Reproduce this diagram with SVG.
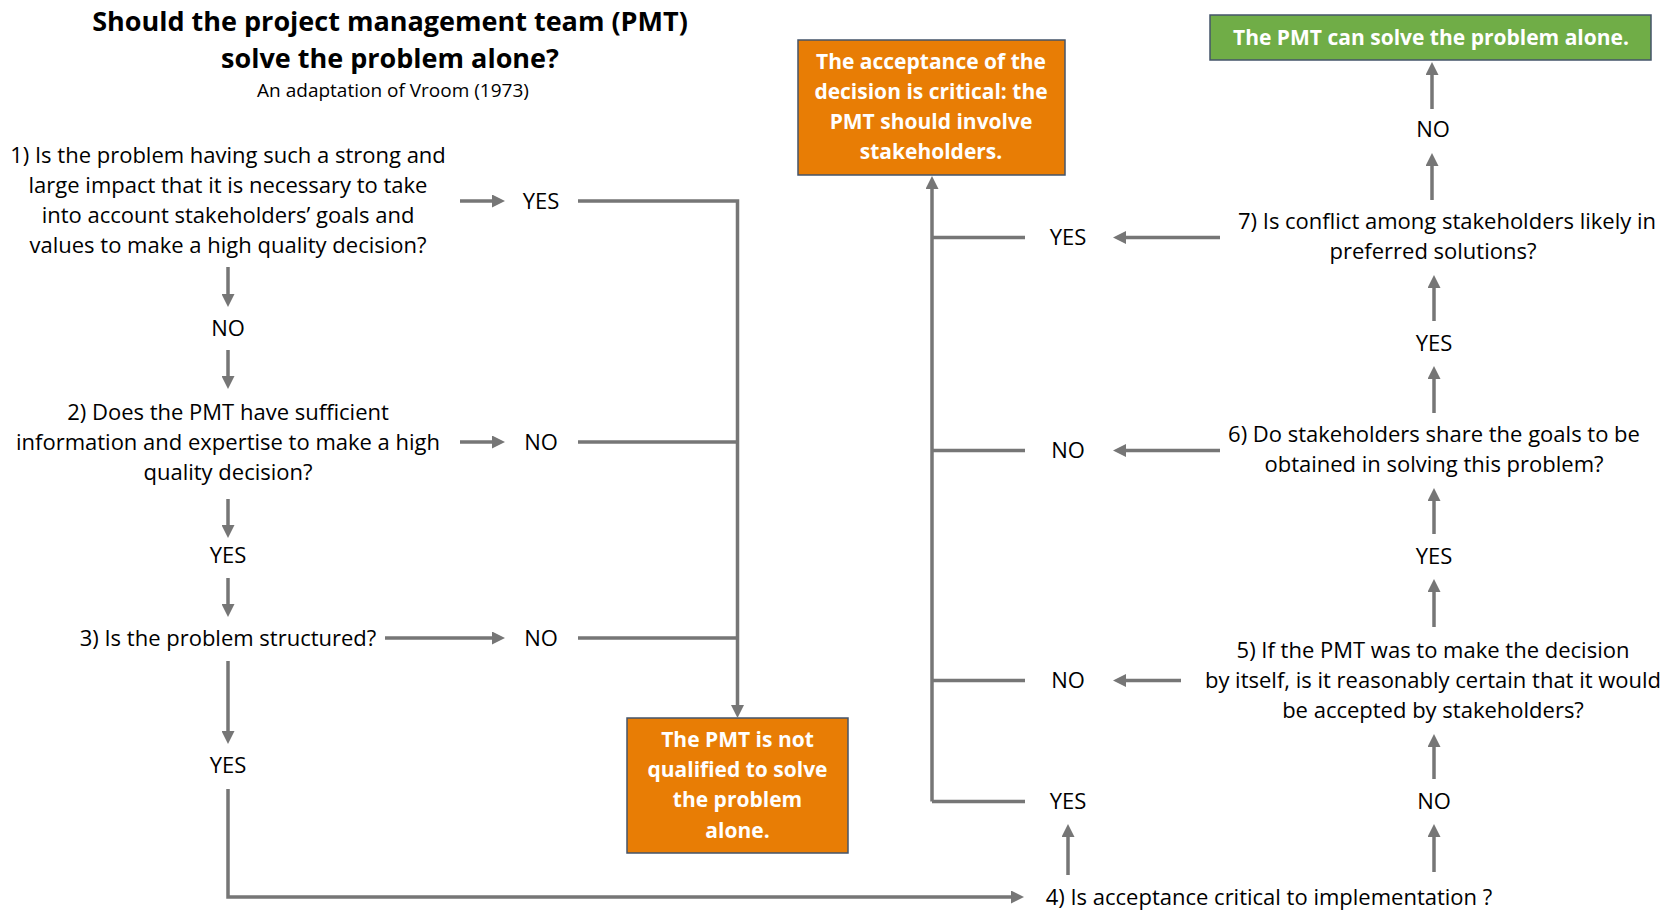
<svg xmlns="http://www.w3.org/2000/svg" width="1678" height="912" viewBox="0 0 1678 912">
<defs>
<style>
.t{font-family:"Open Sans","Liberation Sans",sans-serif;font-size:22px;fill:#000;text-anchor:middle}
.title{font-family:"Open Sans","Liberation Sans",sans-serif;font-size:27px;font-weight:bold;fill:#000;text-anchor:middle}
.sub{font-family:"Open Sans","Liberation Sans",sans-serif;font-size:19px;fill:#000;text-anchor:middle}
.bt{font-family:"Open Sans","Liberation Sans",sans-serif;font-size:21px;font-weight:bold;fill:#fff;text-anchor:middle}
.or{fill:#E87D05;stroke:#44546A;stroke-width:1.5}
.gr{fill:#70AD47;stroke:#44546A;stroke-width:1.5}
.c{fill:none;stroke:#767676;stroke-width:3.5}
.a{fill:none;stroke:#767676;stroke-width:3.5;marker-end:url(#ah)}
</style>
<marker id="ah" markerUnits="userSpaceOnUse" markerWidth="13" markerHeight="13" viewBox="0 0 13 13" refX="2" refY="6.5" orient="auto">
<path d="M0,0 L13,6.5 L0,13 z" fill="#767676"/>
</marker>
</defs>
<rect width="1678" height="912" fill="#fff"/>

<g id="title">
<text class="title" x="390" y="31">Should the project management team (PMT)</text>
<text class="title" x="390" y="68">solve the problem alone?</text>
<text class="sub" x="393" y="97">An adaptation of Vroom (1973)</text>
</g>

<g id="q1">
<text class="t" x="228" y="163">1) Is the problem having such a strong and</text>
<text class="t" x="228" y="193">large impact that it is necessary to take</text>
<text class="t" x="228" y="223">into account stakeholders’ goals and</text>
<text class="t" x="228" y="253">values to make a high quality decision?</text>
</g>
<g id="q1-yes"><text class="t" x="541" y="209">YES</text></g>
<g id="q1-no"><text class="t" x="228" y="336">NO</text></g>

<g id="q2">
<text class="t" x="228" y="420">2) Does the PMT have sufficient</text>
<text class="t" x="228" y="450">information and expertise to make a high</text>
<text class="t" x="228" y="480">quality decision?</text>
</g>
<g id="q2-no"><text class="t" x="541" y="450">NO</text></g>
<g id="q2-yes"><text class="t" x="228" y="563">YES</text></g>

<g id="q3"><text class="t" x="228" y="646">3) Is the problem structured?</text></g>
<g id="q3-no"><text class="t" x="541" y="646">NO</text></g>
<g id="q3-yes"><text class="t" x="228" y="773">YES</text></g>

<g id="not-qualified">
<rect class="or" x="627" y="718" width="221" height="135"/>
<text class="bt" x="737.5" y="747">The PMT is not</text>
<text class="bt" x="737.5" y="777">qualified to solve</text>
<text class="bt" x="737.5" y="807">the problem</text>
<text class="bt" x="737.5" y="838">alone.</text>
</g>

<g id="q4"><text class="t" x="1269" y="905">4) Is acceptance critical to implementation ?</text></g>
<g id="q4-yes"><text class="t" x="1068" y="809">YES</text></g>
<g id="q4-no"><text class="t" x="1434" y="809">NO</text></g>

<g id="q5">
<text class="t" x="1433" y="658">5) If the PMT was to make the decision</text>
<text class="t" x="1433" y="688">by itself, is it reasonably certain that it would</text>
<text class="t" x="1433" y="718">be accepted by stakeholders?</text>
</g>
<g id="q5-no"><text class="t" x="1068" y="688">NO</text></g>
<g id="q5-yes"><text class="t" x="1434" y="564">YES</text></g>

<g id="q6">
<text class="t" x="1434" y="442">6) Do stakeholders share the goals to be</text>
<text class="t" x="1434" y="472">obtained in solving this problem?</text>
</g>
<g id="q6-no"><text class="t" x="1068" y="458">NO</text></g>
<g id="q6-yes"><text class="t" x="1434" y="351">YES</text></g>

<g id="q7">
<text class="t" x="1447" y="229">7) Is conflict among stakeholders likely in</text>
<text class="t" x="1433" y="259">preferred solutions?</text>
</g>
<g id="q7-yes"><text class="t" x="1068" y="245">YES</text></g>
<g id="q7-no"><text class="t" x="1433" y="137">NO</text></g>

<g id="involve">
<rect class="or" x="798" y="40" width="267" height="135"/>
<text class="bt" x="931" y="69">The acceptance of the</text>
<text class="bt" x="931" y="99">decision is critical: the</text>
<text class="bt" x="931" y="129">PMT should involve</text>
<text class="bt" x="931" y="159">stakeholders.</text>
</g>

<g id="alone">
<rect class="gr" x="1210" y="15" width="441" height="45"/>
<text class="bt" x="1431" y="45">The PMT can solve the problem alone.</text>
</g>

<g id="connectors">
<line class="a" x1="460" y1="201" x2="494" y2="201"/>
<line class="a" x1="228" y1="267" x2="228" y2="296"/>
<line class="a" x1="228" y1="350" x2="228" y2="378"/>
<line class="a" x1="460" y1="442" x2="494" y2="442"/>
<line class="a" x1="228" y1="499" x2="228" y2="527"/>
<line class="a" x1="228" y1="578" x2="228" y2="606"/>
<line class="a" x1="385" y1="638" x2="494" y2="638"/>
<line class="a" x1="228" y1="661" x2="228" y2="733"/>
<path class="a" d="M228,789 V897 H1013"/>
<path class="a" d="M578,201 H737.5 V707"/>
<line class="c" x1="578" y1="442" x2="737.5" y2="442"/>
<line class="c" x1="578" y1="638" x2="737.5" y2="638"/>
<path class="a" d="M932,801.5 V187"/>
<line class="c" x1="932" y1="237.5" x2="1025" y2="237.5"/>
<line class="c" x1="932" y1="450.5" x2="1025" y2="450.5"/>
<line class="c" x1="932" y1="680.5" x2="1025" y2="680.5"/>
<line class="c" x1="932" y1="801.5" x2="1025" y2="801.5"/>
<line class="a" x1="1220" y1="237.5" x2="1124" y2="237.5"/>
<line class="a" x1="1220" y1="450.5" x2="1124" y2="450.5"/>
<line class="a" x1="1181" y1="680.5" x2="1124" y2="680.5"/>
<line class="a" x1="1068" y1="875" x2="1068" y2="835"/>
<line class="a" x1="1434" y1="872" x2="1434" y2="835"/>
<line class="a" x1="1434" y1="779" x2="1434" y2="745"/>
<line class="a" x1="1434" y1="627" x2="1434" y2="590"/>
<line class="a" x1="1434" y1="534" x2="1434" y2="499"/>
<line class="a" x1="1434" y1="413" x2="1434" y2="377"/>
<line class="a" x1="1434" y1="321" x2="1434" y2="286"/>
<line class="a" x1="1432" y1="200" x2="1432" y2="164"/>
<line class="a" x1="1432" y1="109" x2="1432" y2="73"/>
</g>
</svg>
